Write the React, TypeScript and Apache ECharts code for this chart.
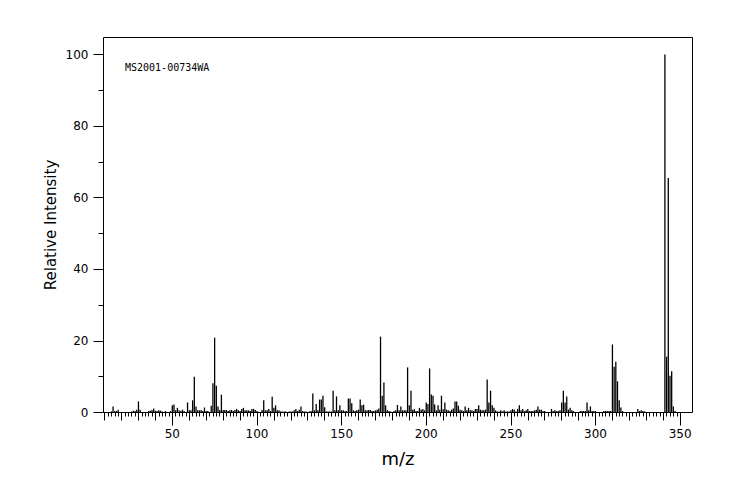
import React, { useEffect, useRef } from "react";
import * as echarts from "echarts";

// [m/z, relative intensity]
const PEAKS_LOW: [number, number][] = [
  [14, 0.3], [15, 1.7], [16, 0.4], [17, 0.4], [18, 0.8], [26, 0.3], [27, 0.5], [28, 0.4], [29, 0.8],
  [30, 3.1], [31, 0.8], [36, 0.4], [37, 0.5], [38, 0.7], [39, 1.1], [40, 0.5], [41, 0.4], [42, 0.6],
  [43, 0.5], [44, 0.3], [46, 0.4], [49, 0.4], [50, 2.0], [51, 2.2], [52, 0.6], [53, 1.3], [54, 0.6],
  [55, 0.4], [56, 0.8], [57, 0.4], [59, 2.8], [60, 0.6], [61, 0.6], [62, 3.4], [63, 10.0], [64, 1.7],
  [65, 0.6], [66, 0.6], [67, 0.7], [68, 0.4], [69, 1.4], [70, 0.4], [71, 0.4], [73, 1.9], [74, 8.2],
  [75, 20.9], [76, 7.5], [77, 1.7], [78, 0.7], [79, 5.0], [80, 0.7], [81, 0.7], [82, 0.7], [83, 0.4],
  [84, 0.6], [85, 0.7], [86, 0.4], [87, 0.7], [88, 1.0], [89, 0.6], [90, 0.4], [91, 1.0], [92, 1.3],
  [93, 0.6], [94, 0.6], [95, 0.6], [96, 0.4], [97, 1.0], [98, 1.0], [99, 0.7],
];

const PEAKS_MID: [number, number][] = [
  [100, 0.4], [101, 0.2], [103, 0.7], [104, 3.4], [105, 0.6], [106, 0.6], [107, 1.0], [108, 0.4],
  [109, 4.4], [110, 1.3], [111, 2.0], [112, 0.6], [113, 0.6], [114, 0.3], [115, 0.3], [116, 0.3],
  [117, 0.3], [119, 0.3], [120, 0.3], [121, 0.3], [122, 0.6], [123, 1.0], [124, 0.4], [125, 0.8],
  [126, 1.7], [127, 0.4], [128, 0.3], [129, 0.3], [131, 0.3], [132, 0.4], [133, 5.3], [134, 0.6],
  [135, 2.4], [136, 0.6], [137, 3.6], [138, 3.6], [139, 4.7], [140, 1.5], [141, 0.3], [142, 0.3],
  [143, 0.3], [144, 0.3], [145, 6.1], [146, 0.6], [147, 4.5], [148, 0.6], [149, 2.0], [150, 0.6],
  [151, 0.6], [152, 0.4], [153, 0.4], [154, 3.9], [155, 3.9], [156, 2.6], [157, 0.6], [158, 0.4],
  [159, 0.6], [160, 0.8], [161, 3.6], [162, 2.0], [163, 2.2], [164, 0.6], [165, 0.6], [166, 0.7],
  [167, 0.7], [168, 0.4], [169, 0.4], [170, 0.6], [171, 0.8], [172, 1.1], [173, 21.2], [174, 4.7],
  [175, 8.4], [176, 2.0], [177, 0.6], [178, 0.4], [179, 0.3], [181, 0.4], [182, 0.6], [183, 2.1],
  [184, 0.6], [185, 1.7], [186, 0.6], [187, 0.6], [188, 0.6], [189, 12.6], [190, 2.0], [191, 6.1],
  [192, 0.8], [193, 0.9], [194, 0.4], [195, 0.4], [196, 1.3], [197, 0.8], [198, 1.0], [199, 0.6],
];

const PEAKS_HIGH: [number, number][] = [
  [200, 2.8], [201, 2.4], [202, 12.3], [203, 5.0], [204, 4.7], [205, 2.2], [206, 0.6], [207, 2.0],
  [208, 0.8], [209, 4.7], [210, 0.9], [211, 2.8], [212, 0.8], [213, 0.6], [214, 0.4], [215, 0.8],
  [216, 1.1], [217, 3.1], [218, 3.1], [219, 1.9], [220, 0.8], [221, 0.6], [222, 0.4], [223, 1.7],
  [224, 0.6], [225, 1.3], [226, 0.6], [227, 0.6], [228, 0.4], [229, 1.0], [230, 1.0], [231, 2.0],
  [232, 0.8], [233, 0.6], [234, 0.6], [235, 0.8], [236, 9.2], [237, 2.8], [238, 6.1], [239, 2.0],
  [240, 1.3], [241, 0.6], [242, 0.3], [243, 0.3], [244, 0.6], [245, 0.3], [246, 0.6], [247, 0.3],
  [248, 0.3], [249, 0.3], [250, 0.6], [251, 1.0], [252, 0.8], [253, 0.3], [254, 1.0], [255, 2.0],
  [256, 0.6], [257, 1.0], [258, 0.4], [259, 0.6], [260, 1.0], [261, 0.4], [262, 0.4], [263, 0.4],
  [264, 0.6], [265, 0.8], [266, 1.7], [267, 0.8], [268, 0.8], [269, 0.4], [270, 0.4], [274, 1.0],
  [275, 0.4], [276, 0.6], [277, 0.4], [278, 0.4], [279, 0.6], [280, 2.8], [281, 6.1], [282, 2.8],
  [283, 4.5], [284, 0.8], [285, 1.3], [286, 0.6], [287, 0.4], [291, 0.4], [292, 0.4], [293, 0.4],
  [294, 0.4], [295, 2.8], [296, 0.6], [297, 1.7], [298, 0.4], [299, 0.4], [300, 0.4], [305, 0.4],
  [306, 0.4], [307, 0.4], [308, 0.4], [309, 0.4], [310, 19.0], [311, 12.8], [312, 14.2], [313, 8.7],
  [314, 3.4], [315, 1.4], [316, 0.4], [325, 1.0], [326, 0.4], [327, 0.6], [328, 0.4], [329, 0.3],
  [341, 100], [342, 15.6], [343, 65.5], [344, 10.3], [345, 11.5], [346, 1.7], [347, 0.4],
];

const SPECTRUM_ID = "MS2001-00734WA";
const X_NAME = "m/z";
const Y_NAME = "Relative Intensity";

const X_MIN = 9.35;
const X_MAX = 357.3;
const Y_MAX = 104.75;
const X_TICK_START = 10;
const X_TICK_END = 350;
const X_TICK_STEP = 10;
const X_LABEL_START = 50;
const X_LABEL_STEP = 50;
const Y_TICK_MAX = 100;
const Y_TICK_STEP = 20;

export default function App() {
  const ref = useRef<HTMLDivElement>(null);

  useEffect(() => {
    document.body.style.margin = "0";
    const chart = echarts.init(ref.current!, null, { renderer: "svg" });
    const L = 103.5, R = 692.5, T = 37.5, B = 412.5;
    const sx = (R - L) / (X_MAX - X_MIN);
    const px = (v: number) => L + (v - X_MIN) * sx;
    const sy = (B - T) / Y_MAX;
    const font = "DejaVu Sans";
    const black = "#000";
    const hiddenAxis = (gridIndex: number) => ({ gridIndex, type: "value", show: false, min: 0, max: 1 });

    chart.setOption({
      animation: false,
      backgroundColor: "#fff",
      grid: [
        { left: L, top: T, width: R - L, height: B - T, show: true, borderColor: black, borderWidth: 1, backgroundColor: "transparent" },
        { left: px(X_TICK_START), width: px(X_TICK_END) - px(X_TICK_START), top: T, height: B - T },
        { left: px(X_LABEL_START), width: px(X_TICK_END) - px(X_LABEL_START), top: T, height: B - T },
        { left: L, width: R - L, top: B - Y_TICK_MAX * sy, height: Y_TICK_MAX * sy },
      ],
      xAxis: [
        {
          gridIndex: 0, type: "value", min: X_MIN, max: X_MAX,
          axisLine: { show: false }, axisTick: { show: false }, axisLabel: { show: false }, splitLine: { show: false },
          name: X_NAME, nameLocation: "middle", nameGap: 37,
          nameTextStyle: { fontFamily: font, fontSize: 18, color: black },
        },
        {
          gridIndex: 1, type: "value", min: X_TICK_START, max: X_TICK_END, interval: X_TICK_STEP,
          axisLine: { show: false },
          axisTick: { show: true, length: 8, lineStyle: { color: black, width: 1 } },
          minorTick: { show: true, splitNumber: 5, length: 4, lineStyle: { color: black, width: 1 } },
          axisLabel: { show: false }, splitLine: { show: false }, minorSplitLine: { show: false },
        },
        {
          gridIndex: 2, type: "value", min: X_LABEL_START, max: X_TICK_END, interval: X_LABEL_STEP,
          axisLine: { show: false },
          axisTick: { show: true, length: 13, lineStyle: { color: black, width: 1 } },
          axisLabel: { show: true, margin: 15, fontFamily: font, fontSize: 12, color: black },
          splitLine: { show: false },
        },
        hiddenAxis(3),
      ],
      yAxis: [
        {
          gridIndex: 0, type: "value", min: 0, max: Y_MAX,
          axisLine: { show: false }, axisTick: { show: false }, axisLabel: { show: false }, splitLine: { show: false },
          name: Y_NAME, nameLocation: "middle", nameGap: 45,
          nameTextStyle: { fontFamily: font, fontSize: 15, color: black },
        },
        hiddenAxis(1),
        hiddenAxis(2),
        {
          gridIndex: 3, type: "value", min: 0, max: Y_TICK_MAX, interval: Y_TICK_STEP,
          axisLine: { show: false },
          axisTick: { show: true, length: 10, lineStyle: { color: black, width: 1 } },
          minorTick: { show: true, splitNumber: 2, length: 5, lineStyle: { color: black, width: 1 } },
          axisLabel: { show: true, margin: 15, fontFamily: font, fontSize: 12, color: black },
          splitLine: { show: false }, minorSplitLine: { show: false },
        },
      ],
      graphic: [
        {
          type: "text", left: 125, top: 62,
          style: { text: SPECTRUM_ID, fontFamily: "DejaVu Sans Mono", fontSize: 10, fill: black },
        },
      ],
      series: [
        {
          type: "bar", xAxisIndex: 0, yAxisIndex: 0, silent: true,
          barWidth: 1.3,
          itemStyle: { color: black },
          data: [...PEAKS_LOW, ...PEAKS_MID, ...PEAKS_HIGH],
        },
      ],
    });
    return () => chart.dispose();
  }, []);

  return <div ref={ref} style={{ position: "fixed", left: 0, top: 0, width: 744, height: 500 }} />;
}
